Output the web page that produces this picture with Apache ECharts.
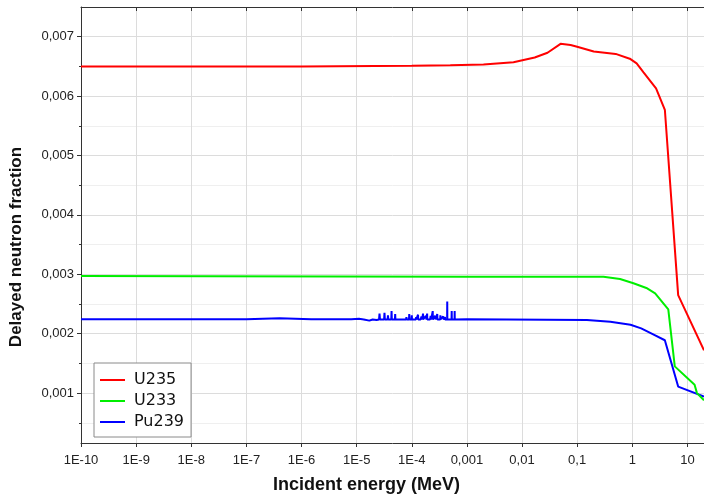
<!DOCTYPE html>
<html>
<head>
<meta charset="utf-8">
<title>Delayed neutron fraction</title>
<script src="https://cdn.jsdelivr.net/npm/echarts@6/dist/echarts.min.js"></script>
<style>
  html, body { margin: 0; padding: 0; background: #ffffff; }
  #chart { width: 704px; height: 499px; }
</style>
</head>
<body>
<div id="chart"></div>
<script>
// Incident neutron energy (MeV) and delayed neutron fraction per nuclide
const u235Energy = [1e-10, 1e-6, 1e-4, 5e-4, 2e-3, 7e-3, 0.017, 0.029, 0.05, 0.076, 0.1, 0.2, 0.5, 0.9, 1.2, 1.6, 2.7, 3.9, 6.8, 20];
const u235Beta   = [0.0065, 0.0065, 0.00651, 0.00652, 0.00653, 0.00657, 0.00665, 0.00673, 0.00688, 0.00686, 0.00683, 0.00675, 0.00671, 0.00663, 0.00655, 0.0064, 0.00613, 0.00577, 0.00265, 0.00172];

const u233Energy = [1e-10, 1e-3, 0.3, 0.6, 1.05, 1.8, 2.6, 4.5, 5.9, 13.5, 14.9, 20];
const u233Beta   = [0.00297, 0.00296, 0.00296, 0.00292, 0.00285, 0.00277, 0.00268, 0.00241, 0.00145, 0.00114, 0.0010, 0.00088];

// Pu239 has narrow resonance spikes between ~1E-5 and ~7E-4 MeV
const pu239Energy = [
  1e-10, 1e-7, 4e-7, 1.5e-6, 8e-6, 1.1e-5,
  1.35e-5, 1.4e-5, 1.45e-5, 1.7e-5,
  1.95e-5, 2.0e-5, 2.05e-5, 2.3e-5,
  2.55e-5, 2.6e-5, 2.65e-5,
  3.15e-5, 3.2e-5, 3.25e-5,
  3.65e-5, 3.7e-5, 3.75e-5,
  4.25e-5, 4.3e-5, 4.35e-5,
  4.95e-5, 5.0e-5, 5.05e-5,
  6.1e-5, 6.2e-5, 6.3e-5,
  7.9e-5, 8.0e-5, 8.1e-5,
  8.9e-5, 9.0e-5, 9.1e-5,
  9.9e-5, 1.0e-4, 1.01e-4,
  1.19e-4, 1.2e-4, 1.21e-4,
  1.29e-4, 1.3e-4, 1.31e-4,
  1.45e-4, 1.5e-4, 1.55e-4,
  1.59e-4, 1.6e-4, 1.61e-4,
  1.75e-4, 1.8e-4, 1.85e-4,
  1.89e-4, 1.9e-4, 1.91e-4,
  2.15e-4, 2.2e-4, 2.25e-4,
  2.38e-4, 2.4e-4, 2.42e-4,
  2.6e-4, 2.65e-4, 2.7e-4,
  2.88e-4, 2.9e-4, 2.92e-4,
  3.28e-4, 3.3e-4, 3.32e-4,
  3.6e-4, 3.7e-4, 3.8e-4,
  3.98e-4, 4.0e-4, 4.02e-4,
  4.38e-4, 4.4e-4, 4.42e-4,
  4.8e-4,
  5.27e-4, 5.3e-4, 5.33e-4,
  5.6e-4,
  5.97e-4, 6.0e-4, 6.03e-4,
  6.5e-4, 1e-3, 0.15, 0.4, 0.93, 1.45, 2.5, 3.9, 6.8, 20
];
const pu239Beta = [
  0.002245, 0.002245, 0.00226, 0.002245, 0.002245, 0.00225,
  0.00224, 0.00226, 0.00224, 0.00222,
  0.00224, 0.00227, 0.00224, 0.00223,
  0.00224, 0.00234, 0.00224,
  0.00224, 0.00235, 0.00224,
  0.00224, 0.00231, 0.00224,
  0.00224, 0.00238, 0.00224,
  0.00224, 0.00233, 0.00224,
  0.00224, 0.00226, 0.00224,
  0.00224, 0.00228, 0.00224,
  0.00224, 0.00233, 0.00224,
  0.00224, 0.00231, 0.00224,
  0.00224, 0.00228, 0.00224,
  0.00224, 0.00232, 0.00224,
  0.00224, 0.00229, 0.00224,
  0.00224, 0.00234, 0.00224,
  0.00224, 0.00230, 0.00224,
  0.00224, 0.00234, 0.00224,
  0.00224, 0.00230, 0.00224,
  0.00224, 0.00238, 0.00224,
  0.00224, 0.00230, 0.00224,
  0.00224, 0.00233, 0.00224,
  0.00224, 0.00231, 0.00224,
  0.00224, 0.00229, 0.00224,
  0.00224, 0.00228, 0.00224,
  0.00224, 0.00254, 0.00224,
  0.00226,
  0.00224, 0.00238, 0.00224,
  0.00226,
  0.00224, 0.00238, 0.00224,
  0.00225, 0.002245, 0.00223, 0.0022, 0.00215, 0.00209, 0.00198, 0.00189, 0.00111, 0.00094
];

// Axis tick labels
const xTickLabels = ['1E-10', '1E-9', '1E-8', '1E-7', '1E-6', '1E-5', '1E-4', '0,001', '0,01', '0,1', '1', '10'];
const yMajorTicks = [0.001, 0.002, 0.003, 0.004, 0.005, 0.006, 0.007];
const yMajorLabels = ['0,001', '0,002', '0,003', '0,004', '0,005', '0,006', '0,007'];
const yMinorTicks = [0.0005, 0.0015, 0.0025, 0.0035, 0.0045, 0.0055, 0.0065];

const pairs = (xs, ys) => xs.map((x, i) => [x, ys[i]]);

const X_MIN = 1e-10, X_MAX = 20;
const Y_MIN = 0.00016, Y_MAX = 0.0075;
const FONT = '"Liberation Sans", Arial, sans-serif';
const AXIS_COLOR = '#333333';

const chart = echarts.init(document.getElementById('chart'), null, { renderer: 'canvas' });

const lineSeries = (name, color, data) => ({
  name: name,
  type: 'line',
  data: data,
  showSymbol: false,
  symbol: 'none',
  smooth: false,
  animation: false,
  lineStyle: { color: color, width: 2 },
  itemStyle: { color: color }
});

chart.setOption({
  backgroundColor: '#ffffff',
  animation: false,
  grid: { left: 78, right: -4, top: 7, bottom: 56, containLabel: false },
  legend: {
    orient: 'vertical',
    left: 94,
    top: 363,
    padding: [8, 7, 6, 6],
    itemGap: 3,
    itemWidth: 25,
    itemHeight: 2,
    icon: 'rect',
    backgroundColor: '#ffffff',
    borderColor: '#8a8a8a',
    borderWidth: 1,
    textStyle: { fontFamily: '"DejaVu Sans", sans-serif', fontSize: 16, lineHeight: 18, color: '#111111', padding: [0, 0, 0, 4] },
    data: ['U235', 'U233', 'Pu239']
  },
  xAxis: [
    {
      type: 'log',
      logBase: 10,
      min: X_MIN,
      max: X_MAX,
      interval: 1,
      position: 'bottom',
      name: 'Incident energy (MeV)',
      nameLocation: 'middle',
      nameGap: 33,
      nameTextStyle: { fontFamily: FONT, fontSize: 18, fontWeight: 'bold', color: '#111111', padding: [0, 52, 0, 0] },
      axisLine: { show: true, lineStyle: { color: AXIS_COLOR, width: 1 } },
      axisTick: { show: true, inside: false, length: 4, lineStyle: { color: AXIS_COLOR } },
      axisLabel: {
        show: true,
        margin: 11,
        fontFamily: FONT,
        fontSize: 13,
        color: '#222222',
        showMaxLabel: false,
        formatter: v => {
          const e = Math.round(Math.log10(v));
          return xTickLabels[e + 10] !== undefined ? xTickLabels[e + 10] : '';
        }
      },
      splitLine: { show: true, lineStyle: { color: '#dcdcdc', width: 1 } },
      minorTick: { show: false },
      minorSplitLine: { show: false }
    },
    {
      type: 'log',
      logBase: 10,
      min: X_MIN,
      max: X_MAX,
      interval: 1,
      position: 'top',
      axisLine: { show: true, lineStyle: { color: AXIS_COLOR, width: 1 } },
      axisTick: { show: true, inside: true, length: 4, lineStyle: { color: AXIS_COLOR } },
      axisLabel: { show: false },
      splitLine: { show: false }
    }
  ],
  yAxis: [
    {
      type: 'value',
      min: Y_MIN,
      max: Y_MAX,
      position: 'left',
      name: 'Delayed neutron fraction',
      nameLocation: 'middle',
      nameGap: 56,
      nameRotate: 90,
      nameTextStyle: { fontFamily: FONT, fontSize: 17, fontWeight: 'bold', color: '#111111', padding: [0, 44, 0, 0] },
      axisLine: { show: true, onZero: false, lineStyle: { color: AXIS_COLOR, width: 1 } },
      axisTick: { show: true, length: 4, customValues: yMajorTicks, lineStyle: { color: AXIS_COLOR } },
      axisLabel: {
        show: true,
        margin: 7,
        fontFamily: FONT,
        fontSize: 13,
        color: '#222222',
        customValues: yMajorTicks,
        formatter: v => {
          const i = yMajorTicks.findIndex(t => Math.abs(t - v) < 1e-9);
          return i >= 0 ? yMajorLabels[i] : '';
        }
      },
      splitLine: { show: true, lineStyle: { color: '#dcdcdc', width: 1 } }
    },
    {
      type: 'value',
      min: Y_MIN,
      max: Y_MAX,
      position: 'left',
      offset: 0,
      axisLine: { show: false },
      axisTick: { show: true, length: 2, customValues: yMinorTicks, lineStyle: { color: AXIS_COLOR } },
      axisLabel: { show: false, customValues: yMinorTicks },
      splitLine: { show: true, lineStyle: { color: '#efefef', width: 1 } }
    }
  ],
  series: [
    lineSeries('Pu239', '#0000ff', pairs(pu239Energy, pu239Beta)),
    lineSeries('U233', '#00ee00', pairs(u233Energy, u233Beta)),
    lineSeries('U235', '#ff0000', pairs(u235Energy, u235Beta))
  ]
});
</script>
</body>
</html>
